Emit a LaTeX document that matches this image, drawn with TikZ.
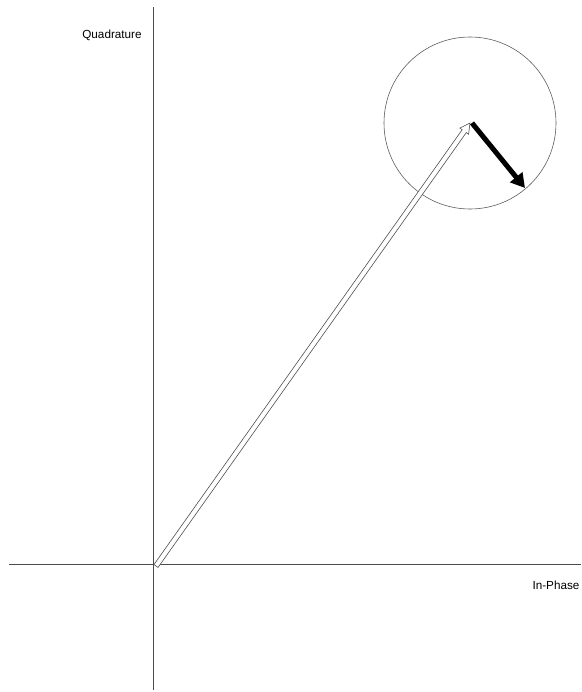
\documentclass[tikz,border=0pt]{standalone}
\usepackage{fontspec}
\setmainfont{Liberation Sans}
\usepackage{tikz}
\usetikzlibrary{arrows.meta, positioning, calc}

\begin{document}
\begin{tikzpicture}[>=Stealth, x=0.3mm, y=-0.3mm,
    axis/.style={black!70, line width=0.35pt},
    axlabel/.style={font=\fontsize{10}{12}\selectfont, inner sep=0pt}]
        % ============================================================
        % 1 jedn. = 1 px obrazu (581 x 692), os y w dol
        % ============================================================
        \useasboundingbox (0,0) rectangle (581,692);

        % === OSIE ===
        \coordinate (xL) at (9,564);
        \coordinate (xR) at (581,564);
        \coordinate (yT) at (153,7);
        \coordinate (yB) at (153,690);
        \draw[axis] (xL) -- (xR);
        \draw[axis] (yT) -- (yB);
        \node[axlabel] (quad) at (112,35) {Quadrature};
        \node[axlabel] (inph) at (556,585) {In-Phase};

        % === OKRAG ===
        \coordinate (O) at (156,566);
        \coordinate (T) at (470,123);
        \coordinate (E) at (525,188);
        \draw[black!65, line width=0.5pt] (T) circle (86);

        % === WEKTOR PUSTY (kontur) ===
        % szerokosc trzonu 5 px, grot 10 px
        \coordinate (B) at ($(T)!3mm!(O)$);
        \draw[black!70, line width=0.5pt, fill=white]
            ($(O)!0.75mm!90:(T)$) -- ($(B)!0.75mm!90:(T)$)
            -- ($(B)!1.6mm!90:(T)$) -- (T)
            -- ($(B)!1.6mm!-90:(T)$) -- ($(B)!0.75mm!-90:(T)$)
            -- ($(O)!0.75mm!-90:(T)$) -- cycle;

        % === WEKTOR CZARNY ===
        \coordinate (S) at ($(T)+(2,0)$);
        \draw[line width=1.5mm, -{Triangle[length=4.2mm, width=4.6mm]}] (S) -- (E);

    \end{tikzpicture}
\end{document}
